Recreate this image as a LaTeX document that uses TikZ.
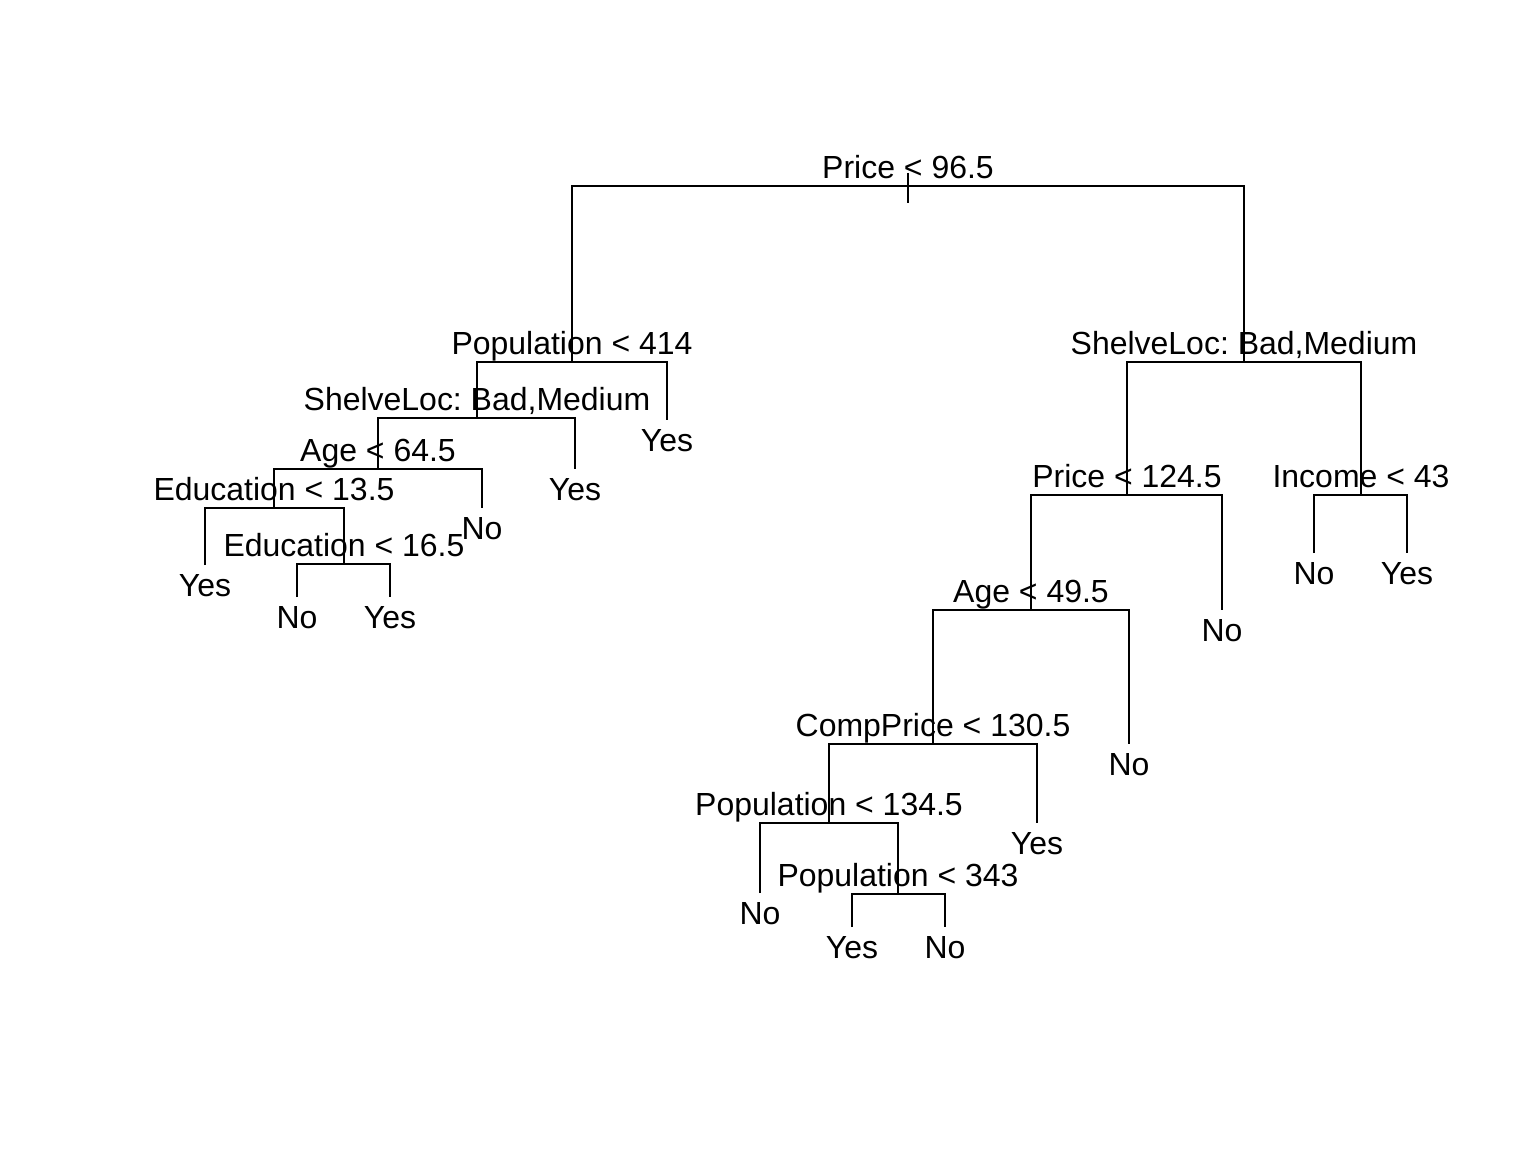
\documentclass[tikz,border=0pt]{standalone}
\usepackage{fontspec}
\setmainfont{Liberation Sans}
\frenchspacing

\begin{document}
\begin{tikzpicture}[line width=0.6pt,
    splitlabel/.style={anchor=base,yshift=0.075cm,inner sep=0pt,font=\fontsize{9.1}{10}\selectfont},
    leaflabel/.style={anchor=base,yshift=-0.31cm,inner sep=0pt,font=\fontsize{9.1}{10}\selectfont}]

\useasboundingbox (0,0) rectangle (15.36,-11.52);

% tree nodes
\coordinate (root) at (9.08,-1.86);
\coordinate (popA) at (5.72,-3.62);
\coordinate (shelveA) at (4.77,-4.18);
\coordinate (ageA) at (3.78,-4.69);
\coordinate (eduA) at (2.74,-5.08);
\coordinate (eduB) at (3.44,-5.64);
\coordinate (yesA) at (2.05,-5.65);
\coordinate (noA) at (2.97,-5.97);
\coordinate (yesB) at (3.90,-5.97);
\coordinate (noB) at (4.82,-5.08);
\coordinate (yesC) at (5.75,-4.69);
\coordinate (yesD) at (6.67,-4.20);

\coordinate (shelveB) at (12.44,-3.62);
\coordinate (priceB) at (11.27,-4.95);
\coordinate (ageB) at (10.31,-6.10);
\coordinate (compB) at (9.33,-7.44);
\coordinate (popB) at (8.29,-8.23);
\coordinate (popC) at (8.98,-8.94);
\coordinate (noC) at (7.60,-8.93);
\coordinate (yesE) at (8.52,-9.27);
\coordinate (noD) at (9.45,-9.27);
\coordinate (yesF) at (10.37,-8.23);
\coordinate (noE) at (11.29,-7.44);
\coordinate (noF) at (12.22,-6.10);
\coordinate (incB) at (13.61,-4.95);
\coordinate (noG) at (13.14,-5.53);
\coordinate (yesG) at (14.07,-5.53);

% branches
\draw (popA) |- (root) -| (shelveB);
\draw (shelveA) |- (popA) -| (yesD);
\draw (ageA) |- (shelveA) -| (yesC);
\draw (eduA) |- (ageA) -| (noB);
\draw (yesA) |- (eduA) -| (eduB);
\draw (noA) |- (eduB) -| (yesB);
\draw (priceB) |- (shelveB) -| (incB);
\draw (ageB) |- (priceB) -| (noF);
\draw (compB) |- (ageB) -| (noE);
\draw (popB) |- (compB) -| (yesF);
\draw (noC) |- (popB) -| (popC);
\draw (yesE) |- (popC) -| (noD);
\draw (noG) |- (incB) -| (yesG);
\draw ([yshift=0.13cm]root) -- ([yshift=-0.17cm]root);

% split labels
\node[splitlabel] (lroot) at (root) {Price < 96.5};
\node[splitlabel] (lpopA) at (popA) {Population < 414};
\node[splitlabel] (lshelveA) at (shelveA) {ShelveLoc: Bad,Medium};
\node[splitlabel] (lageA) at (ageA) {Age < 64.5};
\node[splitlabel] (leduA) at (eduA) {Education < 13.5};
\node[splitlabel] (leduB) at (eduB) {Education < 16.5};
\node[splitlabel] (lshelveB) at (shelveB) {ShelveLoc: Bad,Medium};
\node[splitlabel] (lpriceB) at (priceB) {Price < 124.5};
\node[splitlabel] (lageB) at (ageB) {Age < 49.5};
\node[splitlabel] (lcompB) at (compB) {CompPrice < 130.5};
\node[splitlabel] (lpopB) at (popB) {Population < 134.5};
\node[splitlabel] (lpopC) at (popC) {Population < 343};
\node[splitlabel] (lincB) at (incB) {Income < 43};

% leaf labels
\node[leaflabel] (lyesA) at (yesA) {Yes};
\node[leaflabel] (lnoA) at (noA) {No};
\node[leaflabel] (lyesB) at (yesB) {Yes};
\node[leaflabel] (lnoB) at (noB) {No};
\node[leaflabel] (lyesC) at (yesC) {Yes};
\node[leaflabel] (lyesD) at (yesD) {Yes};
\node[leaflabel] (lnoC) at (noC) {No};
\node[leaflabel] (lyesE) at (yesE) {Yes};
\node[leaflabel] (lnoD) at (noD) {No};
\node[leaflabel] (lyesF) at (yesF) {Yes};
\node[leaflabel] (lnoE) at (noE) {No};
\node[leaflabel] (lnoF) at (noF) {No};
\node[leaflabel] (lnoG) at (noG) {No};
\node[leaflabel] (lyesG) at (yesG) {Yes};
\end{tikzpicture}
\end{document}
